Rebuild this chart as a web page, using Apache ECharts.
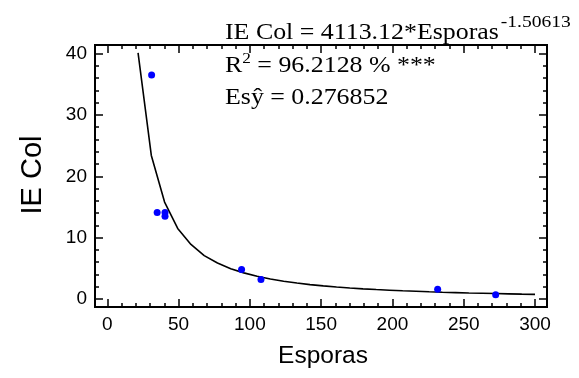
<!DOCTYPE html>
<html><head><meta charset="utf-8">
<script src="https://cdn.jsdelivr.net/npm/echarts@6/dist/echarts.min.js"></script>
<style>html,body{margin:0;padding:0;background:#fff}#c{width:579px;height:378px}</style>
</head><body><div id="c"></div>
<script>
// ---- data ----
const xMajor = [0, 50, 100, 150, 200, 250, 300];
const xMinor = [10,20,30,40,60,70,80,90,110,120,130,140,160,170,180,190,210,220,230,240,260,270,280,290];
const yMajor = [0, 10, 20, 30, 40];
const yMinor = [2,4,6,8,12,14,16,18,22,24,26,28,32,34,36,38];
const esporas = [31.1, 35.0, 40.5, 40.5, 94.2, 107.8, 231.7, 272.4];
const ieCol   = [36.5, 14.1, 14.1, 13.5, 4.8, 3.2, 1.6, 0.7];
const fitX = [21.6,30.9,40.2,49.4,58.7,68.0,77.3,86.6,95.8,105.1,114.4,123.7,133.0,142.2,151.5,160.8,170.1,179.4,188.6,197.9,207.2,216.5,225.8,235.0,244.3,253.6,262.9,272.2,281.4,290.7,300];
const fitY = [40.1,23.4,15.8,11.5,8.90,7.08,5.86,4.95,4.26,3.71,3.26,2.90,2.60,2.35,2.14,1.96,1.80,1.66,1.54,1.44,1.34,1.26,1.18,1.11,1.05,0.99,0.94,0.89,0.845,0.80,0.764];
const xName = 'Esporas';
const yName = 'IE Col';
const eqMain = 'IE Col = 4113.12*Esporas';
const eqExp = '-1.50613';
const r2Main = 'R';
const r2Sup = '2';
const r2Rest = ' = 96.2128 % ***';
const seLine = 'Esŷ = 0.276852';

// ---- layout ----
const X_MIN = -8.6, X_MAX = 308.4, Y_MIN = -1.3, Y_MAX = 41.4;
const G = {left: 95, top: 45, width: 452, height: 262};
const SANS = '"Liberation Sans", Arial, sans-serif';
const SERIF = '"Liberation Serif", "Times New Roman", serif';

function xAx(grid, pos, ticks, len, labels) {
  return {
    type: 'value', gridIndex: grid, position: pos, min: X_MIN, max: X_MAX,
    splitLine: {show: false},
    axisLine: {show: true, onZero: false, lineStyle: {color: '#000', width: 2}},
    axisTick: {show: true, inside: true, length: len, customValues: ticks, lineStyle: {color: '#000', width: 1.5}},
    axisLabel: labels ? {show: true, customValues: xMajor, margin: 8, color: '#000', fontSize: 19, fontFamily: SANS} : {show: false}
  };
}
function yAx(grid, pos, ticks, len, labels) {
  return {
    type: 'value', gridIndex: grid, position: pos, min: Y_MIN, max: Y_MAX,
    splitLine: {show: false},
    axisLine: {show: true, onZero: false, lineStyle: {color: '#000', width: 2}},
    axisTick: {show: true, inside: true, length: len, customValues: ticks, lineStyle: {color: '#000', width: 1.5}},
    axisLabel: labels ? {show: true, customValues: yMajor, margin: 8, color: '#000', fontSize: 19, fontFamily: SANS} : {show: false}
  };
}

function tw(t, f) { const c = document.createElement('canvas').getContext('2d'); c.font = f; return c.measureText(t).width; }

const SX = 1.15;
const mainSize = 22.5, supSize = 17, sup2Size = 15;
const mainFont = mainSize + 'px ' + SERIF;
const ax = 225;
const w1 = tw(eqMain, mainFont) * SX;
const wR = tw(r2Main, mainFont) * SX;
const w2 = tw(r2Sup, sup2Size + 'px ' + SERIF) * SX;

function txt(text, x, baseline, size) {
  return {type: 'text', x: x, y: baseline - 0.3375 * size, scaleX: SX, z: 100,
    style: {text: text, x: 0, y: 0, font: size + 'px ' + SERIF, fill: '#000', align: 'left', verticalAlign: 'middle'}};
}

const chart = echarts.init(document.getElementById('c'), null, {renderer: 'canvas'});
chart.setOption({
  animation: false,
  backgroundColor: '#fff',
  grid: [Object.assign({}, G), Object.assign({}, G)],
  xAxis: [xAx(0, 'bottom', xMajor, 8, true), xAx(0, 'top', xMajor, 8, false),
          xAx(1, 'bottom', xMinor, 4, false), xAx(1, 'top', xMinor, 4, false)],
  yAxis: [yAx(0, 'left', yMajor, 8, true), yAx(0, 'right', yMajor, 8, false),
          yAx(1, 'left', yMinor, 4, false), yAx(1, 'right', yMinor, 4, false)],
  series: [
    {type: 'line', xAxisIndex: 0, yAxisIndex: 0, data: fitX.map((x, i) => [x, fitY[i]]),
     symbol: 'none', lineStyle: {color: '#000', width: 1.6}, z: 2},
    {type: 'scatter', xAxisIndex: 0, yAxisIndex: 0, data: esporas.map((x, i) => [x, ieCol[i]]),
     symbol: 'circle', symbolSize: 7, itemStyle: {color: '#0000ff', opacity: 1}, z: 3}
  ],
  graphic: [
    txt(eqMain, ax, 41, mainSize),
    txt(eqExp, ax + w1 + 2, 28, supSize),
    txt(r2Main, ax, 73.5, mainSize),
    txt(r2Sup, ax + wR, 64.5, sup2Size),
    txt(r2Rest, ax + wR + w2, 73.5, mainSize),
    txt(seLine, ax, 105.5, mainSize),
    {type: 'text', x: 323, y: 356, z: 100,
     style: {text: xName, font: '24.5px ' + SANS, fill: '#000', align: 'center', verticalAlign: 'middle'}},
    {type: 'text', x: 33, y: 175, rotation: Math.PI / 2, z: 100,
     style: {text: yName, font: '29px ' + SANS, fill: '#000', align: 'center', verticalAlign: 'middle'}}
  ]
});
</script></body></html>
